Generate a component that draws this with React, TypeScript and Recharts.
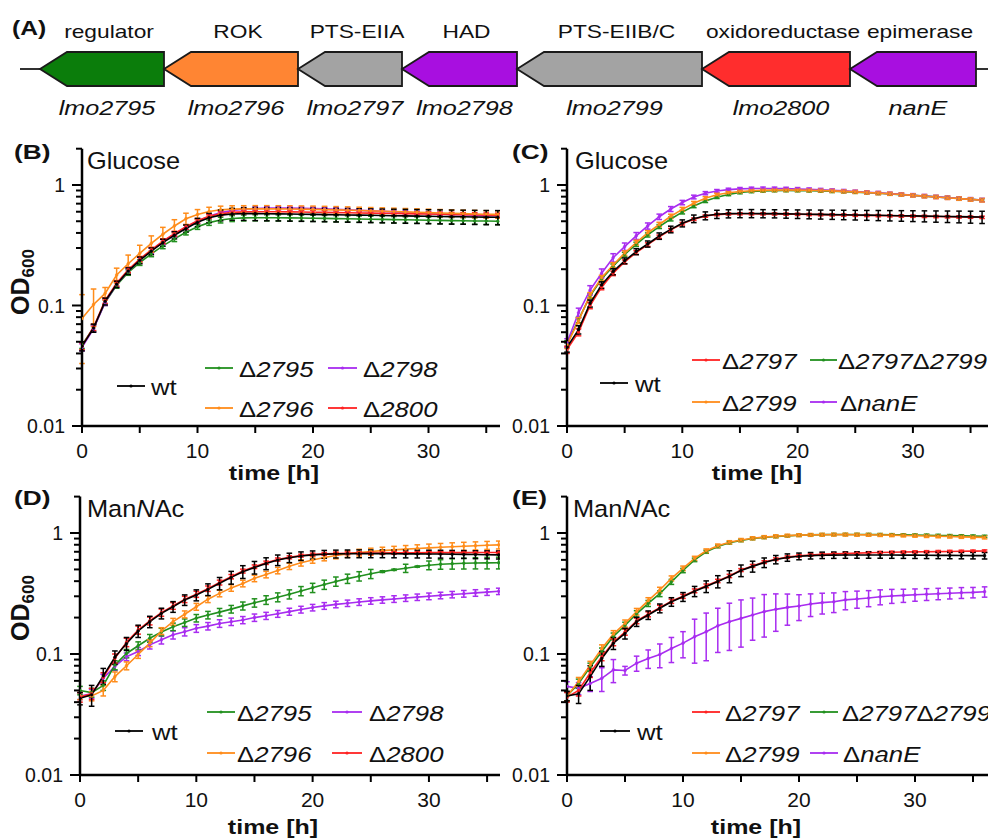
import React from 'react';
import { LineChart, Line, XAxis, YAxis, ErrorBar, Legend, BarChart, Bar } from 'recharts';

const FONT = '"Liberation Sans", Arial, Helvetica, sans-serif';

// ---------------- Panel A: operon ----------------
const geneFunctions = ['regulator', 'ROK', 'PTS-EIIA', 'HAD', 'PTS-EIIB/C', 'oxidoreductase', 'epimerase'];
const geneNames = ['lmo2795', 'lmo2796', 'lmo2797', 'lmo2798', 'lmo2799', 'lmo2800', 'nanE'];
const geneLengths = [124, 134, 104, 115, 185, 148, 126];
const flankLengths = [20, 12];
const geneColors = ['#0b7d0b', '#ff8533', '#a3a3a3', '#a80fe0', '#a3a3a3', '#ff2d2d', '#a80fe0'];

// ---------------- Panels B-E: growth curves ----------------
const hours = [
  0, 1, 2, 3, 4, 5, 6, 7, 8, 9,
  10, 11, 12, 13, 14, 15, 16, 17, 18, 19,
  20, 21, 22, 23, 24, 25, 26, 27, 28, 29,
  30, 31, 32, 33, 34, 35, 36,
];
const xTicks = [0, 5, 10, 15, 20, 25, 30, 35];
const xTickLabels = ['0', '', '10', '', '20', '', '30', ''];
const yTicks = [0.01, 0.02, 0.03, 0.04, 0.05, 0.06, 0.07, 0.08, 0.09, 0.1, 0.2, 0.3, 0.4, 0.5, 0.6, 0.7, 0.8, 0.9, 1, 2];
const yTickLabels = ['0.01', '', '', '', '', '', '', '', '', '0.1', '', '', '', '', '', '', '', '', '1', ''];

// B: Glucose
const bWt = [
  0.046, 0.065, 0.108, 0.150, 0.193, 0.237, 0.282, 0.332, 0.383, 0.435,
  0.490, 0.535, 0.562, 0.575, 0.578, 0.578, 0.577, 0.576, 0.574, 0.572,
  0.570, 0.568, 0.566, 0.564, 0.562, 0.560, 0.558, 0.556, 0.554, 0.552,
  0.550, 0.548, 0.546, 0.545, 0.543, 0.541, 0.540,
];
const bWtErr = [
  0.004, 0.005, 0.007, 0.009, 0.012, 0.015, 0.018, 0.022, 0.026, 0.030,
  0.038, 0.048, 0.058, 0.065, 0.070, 0.072, 0.073, 0.073, 0.073, 0.073,
  0.073, 0.073, 0.073, 0.073, 0.073, 0.073, 0.073, 0.073, 0.073, 0.073,
  0.073, 0.073, 0.073, 0.073, 0.073, 0.073, 0.073,
];
const bD2795 = [
  0.047, 0.065, 0.106, 0.147, 0.188, 0.227, 0.268, 0.312, 0.357, 0.405,
  0.450, 0.487, 0.512, 0.527, 0.533, 0.535, 0.535, 0.534, 0.533, 0.532,
  0.530, 0.528, 0.526, 0.524, 0.522, 0.520, 0.518, 0.516, 0.514, 0.512,
  0.510, 0.508, 0.506, 0.505, 0.503, 0.502, 0.500,
];
const bD2795Err = [
  0.003, 0.004, 0.006, 0.008, 0.010, 0.012, 0.014, 0.016, 0.018, 0.020,
  0.022, 0.025, 0.028, 0.030, 0.030, 0.031, 0.031, 0.031, 0.031, 0.031,
  0.031, 0.031, 0.031, 0.031, 0.031, 0.031, 0.031, 0.031, 0.031, 0.031,
  0.031, 0.031, 0.031, 0.031, 0.031, 0.031, 0.031,
];
const bD2796 = [
  0.078, 0.102, 0.126, 0.179, 0.222, 0.271, 0.328, 0.390, 0.457, 0.525,
  0.570, 0.603, 0.622, 0.630, 0.633, 0.634, 0.634, 0.633, 0.632, 0.630,
  0.628, 0.625, 0.622, 0.618, 0.614, 0.610, 0.606, 0.602, 0.598, 0.594,
  0.590, 0.586, 0.582, 0.578, 0.575, 0.572, 0.570,
];
const bD2796Err = [
  0.045, 0.035, 0.015, 0.025, 0.040, 0.045, 0.050, 0.055, 0.058, 0.058,
  0.055, 0.050, 0.045, 0.042, 0.040, 0.040, 0.040, 0.040, 0.040, 0.040,
  0.040, 0.040, 0.040, 0.040, 0.040, 0.040, 0.040, 0.040, 0.040, 0.040,
  0.040, 0.040, 0.040, 0.040, 0.040, 0.040, 0.040,
];
const bD2798 = [
  0.045, 0.064, 0.106, 0.150, 0.193, 0.238, 0.285, 0.337, 0.390, 0.447,
  0.500, 0.550, 0.590, 0.615, 0.630, 0.638, 0.642, 0.643, 0.642, 0.640,
  0.637, 0.633, 0.628, 0.622, 0.616, 0.610, 0.604, 0.598, 0.592, 0.586,
  0.580, 0.575, 0.570, 0.566, 0.562, 0.558, 0.555,
];
const bD2798Err = [
  0.003, 0.004, 0.006, 0.008, 0.010, 0.012, 0.014, 0.016, 0.018, 0.020,
  0.020, 0.020, 0.020, 0.020, 0.020, 0.020, 0.020, 0.020, 0.020, 0.020,
  0.020, 0.020, 0.020, 0.020, 0.020, 0.020, 0.020, 0.020, 0.020, 0.020,
  0.020, 0.020, 0.020, 0.020, 0.020, 0.020, 0.020,
];
const bD2800 = [
  0.046, 0.066, 0.110, 0.153, 0.198, 0.243, 0.290, 0.342, 0.395, 0.450,
  0.505, 0.550, 0.578, 0.592, 0.598, 0.600, 0.600, 0.600, 0.598, 0.596,
  0.594, 0.592, 0.590, 0.588, 0.586, 0.584, 0.582, 0.580, 0.578, 0.576,
  0.574, 0.572, 0.570, 0.568, 0.566, 0.564, 0.562,
];
const bD2800Err = [
  0.003, 0.004, 0.006, 0.008, 0.010, 0.012, 0.014, 0.016, 0.018, 0.020,
  0.022, 0.022, 0.022, 0.022, 0.022, 0.022, 0.022, 0.022, 0.022, 0.022,
  0.022, 0.022, 0.022, 0.022, 0.022, 0.022, 0.022, 0.022, 0.022, 0.022,
  0.022, 0.022, 0.022, 0.022, 0.022, 0.022, 0.022,
];

// C: Glucose
const cWt = [
  0.045, 0.063, 0.104, 0.148, 0.191, 0.235, 0.280, 0.324, 0.377, 0.428,
  0.481, 0.525, 0.556, 0.572, 0.578, 0.580, 0.580, 0.579, 0.578, 0.576,
  0.574, 0.572, 0.570, 0.568, 0.566, 0.564, 0.562, 0.560, 0.558, 0.556,
  0.554, 0.552, 0.550, 0.548, 0.546, 0.544, 0.542,
];
const cWtErr = [
  0.004, 0.005, 0.007, 0.009, 0.011, 0.013, 0.016, 0.019, 0.023, 0.027,
  0.032, 0.038, 0.042, 0.045, 0.045, 0.045, 0.045, 0.045, 0.045, 0.046,
  0.047, 0.048, 0.049, 0.050, 0.051, 0.052, 0.053, 0.054, 0.055, 0.056,
  0.057, 0.058, 0.059, 0.060, 0.061, 0.062, 0.063,
];
const cD2797 = [
  0.043, 0.060, 0.100, 0.142, 0.185, 0.230, 0.275, 0.320, 0.372, 0.424,
  0.477, 0.520, 0.552, 0.568, 0.575, 0.577, 0.577, 0.576, 0.575, 0.573,
  0.571, 0.569, 0.567, 0.565, 0.563, 0.561, 0.559, 0.557, 0.555, 0.553,
  0.551, 0.549, 0.547, 0.545, 0.543, 0.541, 0.539,
];
const cD2797Err = [
  0.003, 0.004, 0.006, 0.007, 0.008, 0.009, 0.010, 0.011, 0.012, 0.012,
  0.012, 0.012, 0.012, 0.012, 0.012, 0.012, 0.012, 0.012, 0.012, 0.012,
  0.012, 0.012, 0.012, 0.012, 0.012, 0.012, 0.012, 0.012, 0.012, 0.012,
  0.012, 0.012, 0.012, 0.012, 0.012, 0.012, 0.012,
];
const cD2799 = [
  0.047, 0.075, 0.122, 0.170, 0.217, 0.272, 0.333, 0.400, 0.470, 0.550,
  0.628, 0.705, 0.775, 0.830, 0.862, 0.883, 0.896, 0.903, 0.907, 0.908,
  0.907, 0.904, 0.899, 0.893, 0.885, 0.876, 0.866, 0.856, 0.845, 0.833,
  0.820, 0.807, 0.795, 0.783, 0.771, 0.759, 0.748,
];
const cD2799Err = [
  0.003, 0.004, 0.006, 0.008, 0.010, 0.012, 0.015, 0.018, 0.020, 0.022,
  0.024, 0.025, 0.025, 0.025, 0.025, 0.025, 0.025, 0.025, 0.025, 0.025,
  0.025, 0.025, 0.025, 0.025, 0.025, 0.025, 0.025, 0.025, 0.025, 0.025,
  0.025, 0.025, 0.025, 0.025, 0.025, 0.025, 0.025,
];
const cD2797D2799 = [
  0.048, 0.076, 0.120, 0.166, 0.212, 0.265, 0.322, 0.385, 0.452, 0.522,
  0.595, 0.668, 0.735, 0.792, 0.835, 0.865, 0.883, 0.893, 0.898, 0.899,
  0.898, 0.895, 0.891, 0.886, 0.880, 0.872, 0.863, 0.853, 0.843, 0.832,
  0.820, 0.808, 0.796, 0.784, 0.772, 0.760, 0.750,
];
const cD2797D2799Err = [
  0.003, 0.004, 0.005, 0.007, 0.009, 0.011, 0.013, 0.015, 0.017, 0.019,
  0.020, 0.020, 0.020, 0.020, 0.020, 0.020, 0.020, 0.020, 0.020, 0.020,
  0.020, 0.020, 0.020, 0.020, 0.020, 0.020, 0.020, 0.020, 0.020, 0.020,
  0.020, 0.020, 0.020, 0.020, 0.020, 0.020, 0.020,
];
const cNanE = [
  0.049, 0.087, 0.134, 0.185, 0.249, 0.308, 0.378, 0.457, 0.545, 0.632,
  0.715, 0.795, 0.855, 0.892, 0.915, 0.928, 0.934, 0.936, 0.935, 0.932,
  0.927, 0.920, 0.912, 0.903, 0.893, 0.882, 0.871, 0.860, 0.848, 0.836,
  0.823, 0.810, 0.797, 0.785, 0.773, 0.761, 0.750,
];
const cNanEErr = [
  0.004, 0.008, 0.012, 0.016, 0.020, 0.022, 0.025, 0.027, 0.028, 0.030,
  0.030, 0.028, 0.026, 0.025, 0.025, 0.025, 0.025, 0.025, 0.025, 0.025,
  0.025, 0.025, 0.025, 0.025, 0.025, 0.025, 0.025, 0.025, 0.025, 0.025,
  0.025, 0.025, 0.025, 0.025, 0.025, 0.025, 0.025,
];

// D: ManNAc
const dWt = [
  0.043, 0.046, 0.066, 0.094, 0.122, 0.155, 0.185, 0.217, 0.246, 0.280,
  0.307, 0.342, 0.384, 0.430, 0.479, 0.520, 0.561, 0.598, 0.625, 0.645,
  0.660, 0.668, 0.672, 0.674, 0.675, 0.675, 0.675, 0.674, 0.673, 0.672,
  0.671, 0.670, 0.668, 0.666, 0.664, 0.662, 0.660,
];
const dWtErr = [
  0.005, 0.009, 0.010, 0.012, 0.015, 0.018, 0.020, 0.022, 0.025, 0.028,
  0.032, 0.038, 0.045, 0.052, 0.058, 0.062, 0.063, 0.060, 0.056, 0.053,
  0.051, 0.050, 0.050, 0.050, 0.050, 0.050, 0.050, 0.050, 0.050, 0.050,
  0.050, 0.050, 0.050, 0.050, 0.050, 0.050, 0.050,
];
const dD2795 = [
  0.050, 0.048, 0.055, 0.081, 0.101, 0.117, 0.135, 0.152, 0.168, 0.182,
  0.198, 0.210, 0.222, 0.235, 0.250, 0.265, 0.280, 0.295, 0.312, 0.332,
  0.353, 0.375, 0.398, 0.420, 0.440, 0.460, 0.480, 0.497, 0.512, 0.528,
  0.542, 0.552, 0.558, 0.562, 0.565, 0.567, 0.568,
];
const dD2795Err = [
  0.004, 0.004, 0.005, 0.007, 0.008, 0.009, 0.010, 0.011, 0.012, 0.013,
  0.014, 0.015, 0.016, 0.017, 0.019, 0.021, 0.023, 0.025, 0.027, 0.029,
  0.031, 0.033, 0.035, 0.037, 0.039, 0.040, 0.008, 0.006, 0.040, 0.006,
  0.045, 0.050, 0.055, 0.058, 0.060, 0.062, 0.063,
];
const dD2796 = [
  0.045, 0.045, 0.050, 0.065, 0.080, 0.099, 0.123, 0.155, 0.185, 0.213,
  0.246, 0.284, 0.317, 0.352, 0.383, 0.422, 0.454, 0.490, 0.531, 0.567,
  0.599, 0.627, 0.652, 0.672, 0.690, 0.703, 0.715, 0.726, 0.736, 0.745,
  0.754, 0.762, 0.770, 0.778, 0.785, 0.792, 0.798,
];
const dD2796Err = [
  0.003, 0.004, 0.005, 0.006, 0.006, 0.007, 0.008, 0.010, 0.012, 0.014,
  0.016, 0.018, 0.020, 0.022, 0.024, 0.026, 0.028, 0.030, 0.032, 0.034,
  0.036, 0.038, 0.040, 0.042, 0.044, 0.046, 0.048, 0.050, 0.052, 0.054,
  0.056, 0.058, 0.060, 0.060, 0.060, 0.060, 0.060,
];
const dD2798 = [
  0.045, 0.047, 0.063, 0.079, 0.095, 0.105, 0.119, 0.131, 0.144, 0.153,
  0.163, 0.170, 0.179, 0.185, 0.191, 0.200, 0.207, 0.215, 0.224, 0.233,
  0.242, 0.250, 0.257, 0.263, 0.269, 0.275, 0.280, 0.285, 0.290, 0.295,
  0.300, 0.305, 0.310, 0.315, 0.320, 0.325, 0.330,
];
const dD2798Err = [
  0.003, 0.004, 0.005, 0.006, 0.007, 0.008, 0.009, 0.010, 0.011, 0.012,
  0.012, 0.012, 0.013, 0.013, 0.013, 0.014, 0.014, 0.014, 0.015, 0.015,
  0.015, 0.016, 0.016, 0.016, 0.017, 0.017, 0.017, 0.018, 0.018, 0.018,
  0.019, 0.019, 0.019, 0.020, 0.020, 0.020, 0.020,
];
const dD2800 = [
  0.044, 0.047, 0.064, 0.092, 0.125, 0.158, 0.188, 0.220, 0.250, 0.283,
  0.312, 0.347, 0.390, 0.436, 0.485, 0.527, 0.568, 0.604, 0.630, 0.650,
  0.664, 0.672, 0.677, 0.680, 0.682, 0.683, 0.684, 0.685, 0.686, 0.687,
  0.688, 0.688, 0.689, 0.689, 0.690, 0.690, 0.690,
];
const dD2800Err = [
  0.004, 0.005, 0.006, 0.008, 0.010, 0.012, 0.014, 0.015, 0.016, 0.017,
  0.018, 0.018, 0.018, 0.018, 0.018, 0.018, 0.018, 0.018, 0.018, 0.018,
  0.018, 0.018, 0.018, 0.018, 0.018, 0.018, 0.018, 0.018, 0.018, 0.018,
  0.018, 0.018, 0.018, 0.018, 0.018, 0.018, 0.018,
];

// E: ManNAc
const eWt = [
  0.045, 0.047, 0.065, 0.092, 0.123, 0.148, 0.185, 0.210, 0.239, 0.270,
  0.297, 0.330, 0.362, 0.398, 0.438, 0.490, 0.530, 0.570, 0.604, 0.628,
  0.642, 0.650, 0.655, 0.657, 0.658, 0.659, 0.659, 0.659, 0.658, 0.657,
  0.656, 0.655, 0.654, 0.653, 0.652, 0.651, 0.650,
];
const eWtErr = [
  0.004, 0.008, 0.015, 0.013, 0.014, 0.015, 0.016, 0.017, 0.020, 0.022,
  0.025, 0.032, 0.040, 0.046, 0.050, 0.054, 0.055, 0.052, 0.048, 0.044,
  0.041, 0.040, 0.040, 0.040, 0.040, 0.040, 0.040, 0.040, 0.040, 0.040,
  0.040, 0.040, 0.040, 0.040, 0.040, 0.040, 0.040,
];
const eD2797 = [
  0.044, 0.050, 0.070, 0.095, 0.125, 0.152, 0.188, 0.213, 0.242, 0.273,
  0.300, 0.333, 0.366, 0.402, 0.442, 0.494, 0.535, 0.575, 0.608, 0.632,
  0.648, 0.658, 0.666, 0.672, 0.678, 0.682, 0.686, 0.690, 0.693, 0.696,
  0.698, 0.700, 0.702, 0.704, 0.706, 0.708, 0.710,
];
const eD2797Err = [
  0.004, 0.005, 0.006, 0.007, 0.008, 0.009, 0.010, 0.010, 0.011, 0.011,
  0.012, 0.012, 0.013, 0.013, 0.014, 0.014, 0.015, 0.015, 0.015, 0.015,
  0.015, 0.015, 0.015, 0.015, 0.015, 0.015, 0.015, 0.015, 0.015, 0.015,
  0.015, 0.015, 0.015, 0.015, 0.015, 0.015, 0.015,
];
const eD2799 = [
  0.045, 0.059, 0.081, 0.111, 0.146, 0.179, 0.224, 0.276, 0.338, 0.422,
  0.511, 0.618, 0.714, 0.785, 0.838, 0.875, 0.905, 0.925, 0.940, 0.952,
  0.960, 0.965, 0.968, 0.970, 0.970, 0.968, 0.966, 0.963, 0.960, 0.955,
  0.950, 0.945, 0.940, 0.935, 0.930, 0.925, 0.920,
];
const eD2799Err = [
  0.004, 0.005, 0.006, 0.008, 0.010, 0.012, 0.014, 0.016, 0.018, 0.020,
  0.022, 0.024, 0.025, 0.026, 0.026, 0.026, 0.026, 0.026, 0.026, 0.026,
  0.026, 0.026, 0.026, 0.026, 0.026, 0.026, 0.026, 0.026, 0.026, 0.026,
  0.026, 0.026, 0.026, 0.026, 0.026, 0.026, 0.026,
];
const eD2797D2799 = [
  0.045, 0.057, 0.078, 0.105, 0.140, 0.172, 0.215, 0.262, 0.315, 0.395,
  0.490, 0.600, 0.700, 0.775, 0.830, 0.868, 0.900, 0.920, 0.935, 0.948,
  0.958, 0.965, 0.970, 0.972, 0.973, 0.973, 0.972, 0.970, 0.968, 0.965,
  0.962, 0.959, 0.955, 0.951, 0.947, 0.943, 0.938,
];
const eD2797D2799Err = [
  0.004, 0.005, 0.006, 0.007, 0.009, 0.011, 0.013, 0.015, 0.017, 0.019,
  0.020, 0.020, 0.020, 0.020, 0.020, 0.020, 0.020, 0.020, 0.020, 0.020,
  0.020, 0.020, 0.020, 0.020, 0.020, 0.020, 0.020, 0.020, 0.020, 0.020,
  0.020, 0.020, 0.020, 0.020, 0.020, 0.020, 0.020,
];
const eNanE = [
  0.054, 0.052, 0.057, 0.063, 0.074, 0.073, 0.084, 0.092, 0.099, 0.111,
  0.123, 0.139, 0.153, 0.171, 0.185, 0.197, 0.210, 0.224, 0.234, 0.243,
  0.249, 0.259, 0.266, 0.270, 0.280, 0.285, 0.290, 0.297, 0.302, 0.305,
  0.309, 0.312, 0.315, 0.318, 0.321, 0.323, 0.327,
];
const eNanEErr = [
  0.005, 0.006, 0.008, 0.014, 0.016, 0.006, 0.012, 0.016, 0.022, 0.026,
  0.030, 0.055, 0.065, 0.068, 0.078, 0.083, 0.080, 0.086, 0.080, 0.070,
  0.060, 0.055, 0.052, 0.050, 0.048, 0.046, 0.044, 0.042, 0.040, 0.038,
  0.036, 0.035, 0.034, 0.033, 0.033, 0.032, 0.032,
];

// ---------------- styling ----------------
const colWt = '#000000';
const colGreen = '#22901f';
const colOrange = '#ff8c1a';
const colPurple = '#a82cf0';
const colRed = '#ff2222';

type SeriesDef = { key: string; name: string; color: string; values: number[]; errors: number[] };
type LegendPos = { key: string; x1: number; x2: number; y: number; tx: number };
type PanelCfg = {
  id: string; left: number; top: number; width: number; height: number;
  yAxisWidth: number; marginTop: number; marginBottom: number; xMax: number;
  series: SeriesDef[]; legend: LegendPos[];
};

const panels: PanelCfg[] = [
  {
    id: 'B', left: 0, top: 140, width: 500, height: 360, yAxisWidth: 82, marginTop: 8.7, marginBottom: 44, xMax: 36.19,
    series: [
      { key: 'd2795', name: 'Δ2795', color: colGreen, values: bD2795, errors: bD2795Err },
      { key: 'd2798', name: 'Δ2798', color: colPurple, values: bD2798, errors: bD2798Err },
      { key: 'd2800', name: 'Δ2800', color: colRed, values: bD2800, errors: bD2800Err },
      { key: 'd2796', name: 'Δ2796', color: colOrange, values: bD2796, errors: bD2796Err },
      { key: 'wt', name: 'wt', color: colWt, values: bWt, errors: bWtErr },
    ],
    legend: [
      { key: 'wt', x1: 117, x2: 145, y: 246, tx: 151 },
      { key: 'd2795', x1: 205, x2: 233, y: 228, tx: 239 },
      { key: 'd2798', x1: 328, x2: 357, y: 228, tx: 363 },
      { key: 'd2796', x1: 205, x2: 233, y: 268, tx: 239 },
      { key: 'd2800', x1: 328, x2: 357, y: 268, tx: 363 },
    ],
  },
  {
    id: 'C', left: 485, top: 140, width: 504, height: 360, yAxisWidth: 82, marginTop: 8.7, marginBottom: 44, xMax: 36.6,
    series: [
      { key: 'd2797d2799', name: 'Δ2797Δ2799', color: colGreen, values: cD2797D2799, errors: cD2797D2799Err },
      { key: 'dnanE', name: 'ΔnanE', color: colPurple, values: cNanE, errors: cNanEErr },
      { key: 'd2799', name: 'Δ2799', color: colOrange, values: cD2799, errors: cD2799Err },
      { key: 'd2797', name: 'Δ2797', color: colRed, values: cD2797, errors: cD2797Err },
      { key: 'wt', name: 'wt', color: colWt, values: cWt, errors: cWtErr },
    ],
    legend: [
      { key: 'wt', x1: 115, x2: 143, y: 243, tx: 150 },
      { key: 'd2797', x1: 207, x2: 235, y: 220, tx: 237 },
      { key: 'd2797d2799', x1: 325, x2: 352, y: 220, tx: 353 },
      { key: 'd2799', x1: 207, x2: 235, y: 262, tx: 237 },
      { key: 'dnanE', x1: 325, x2: 352, y: 262, tx: 355 },
    ],
  },
  {
    id: 'D', left: 0, top: 488, width: 500, height: 352, yAxisWidth: 80, marginTop: 8.6, marginBottom: 35, xMax: 36.11,
    series: [
      { key: 'd2798', name: 'Δ2798', color: colPurple, values: dD2798, errors: dD2798Err },
      { key: 'd2795', name: 'Δ2795', color: colGreen, values: dD2795, errors: dD2795Err },
      { key: 'd2796', name: 'Δ2796', color: colOrange, values: dD2796, errors: dD2796Err },
      { key: 'd2800', name: 'Δ2800', color: colRed, values: dD2800, errors: dD2800Err },
      { key: 'wt', name: 'wt', color: colWt, values: dWt, errors: dWtErr },
    ],
    legend: [
      { key: 'wt', x1: 115, x2: 143, y: 243, tx: 152 },
      { key: 'd2795', x1: 207, x2: 235, y: 224, tx: 237 },
      { key: 'd2798', x1: 332, x2: 362, y: 224, tx: 369 },
      { key: 'd2796', x1: 207, x2: 235, y: 265, tx: 237 },
      { key: 'd2800', x1: 332, x2: 362, y: 265, tx: 369 },
    ],
  },
  {
    id: 'E', left: 485, top: 488, width: 504, height: 352, yAxisWidth: 82, marginTop: 8.6, marginBottom: 35, xMax: 36.38,
    series: [
      { key: 'dnanE', name: 'ΔnanE', color: colPurple, values: eNanE, errors: eNanEErr },
      { key: 'd2797d2799', name: 'Δ2797Δ2799', color: colGreen, values: eD2797D2799, errors: eD2797D2799Err },
      { key: 'd2799', name: 'Δ2799', color: colOrange, values: eD2799, errors: eD2799Err },
      { key: 'd2797', name: 'Δ2797', color: colRed, values: eD2797, errors: eD2797Err },
      { key: 'wt', name: 'wt', color: colWt, values: eWt, errors: eWtErr },
    ],
    legend: [
      { key: 'wt', x1: 115, x2: 145, y: 243, tx: 152 },
      { key: 'd2797', x1: 207, x2: 235, y: 224, tx: 240 },
      { key: 'd2797d2799', x1: 325, x2: 353, y: 224, tx: 357 },
      { key: 'd2799', x1: 207, x2: 235, y: 265, tx: 240 },
      { key: 'dnanE', x1: 325, x2: 353, y: 265, tx: 358 },
    ],
  },
];

function buildRows(series: SeriesDef[]) {
  return hours.map((h, i) => {
    const row: Record<string, number> = { h };
    series.forEach((s) => {
      row[s.key] = s.values[i];
      row[s.key + 'Err'] = s.errors[i];
    });
    return row;
  });
}

const renderXTick = (props: any) => {
  const { x, y, payload } = props;
  const idx = xTicks.indexOf(payload.value);
  const label = idx >= 0 ? xTickLabels[idx] : '';
  return (
    <g>
      <line x1={x} x2={x} y1={y} y2={y + 7} stroke="#000" strokeWidth={2} />
      {label !== '' && (
        <text x={x} y={y + 32} textAnchor="middle" fontSize={21} fontFamily={FONT} fill="#111">{label}</text>
      )}
    </g>
  );
};

const renderYTick = (props: any) => {
  const { x, y, payload } = props;
  const idx = yTicks.indexOf(payload.value);
  const label = idx >= 0 ? yTickLabels[idx] : '';
  const major = label !== '';
  return (
    <g>
      <line x1={x - (major ? 10 : 6)} x2={x} y1={y} y2={y} stroke="#000" strokeWidth={2} />
      {major && (
        <text x={x - 17} y={y} dy="0.36em" textAnchor="end" fontSize={19.5} fontFamily={FONT} fill="#111">{label}</text>
      )}
    </g>
  );
};

function renderName(name: string) {
  if (name === 'wt') return <tspan>wt</tspan>;
  const parts = name.split(/(Δ)/).filter((p) => p !== '');
  return parts.map((p, i) =>
    p === 'Δ' ? <tspan key={i} fontStyle="normal">Δ</tspan> : <tspan key={i} fontStyle="italic">{p}</tspan>
  );
}

function LegendSvg({ p }: { p: PanelCfg }) {
  return (
    <svg width={p.width} height={p.height} style={{ display: 'block', overflow: 'visible' }}>
      {p.legend.map((it) => {
        const s = p.series.find((q) => q.key === it.key)!;
        return (
          <g key={it.key}>
            <line x1={it.x1} x2={it.x2} y1={it.y} y2={it.y} stroke={s.color} strokeWidth={1.8} />
            <circle cx={(it.x1 + it.x2) / 2} cy={it.y} r={1.6} fill={s.color} />
            <text transform={`translate(${it.tx},${it.y + 8.5}) scale(1.12,1)`} fontSize={23} fontFamily={FONT} fill="#111">
              {renderName(s.name)}
            </text>
          </g>
        );
      })}
    </svg>
  );
}

function GrowthChart({ p }: { p: PanelCfg }) {
  const rows = buildRows(p.series);
  return (
    <LineChart
      width={p.width}
      height={p.height}
      data={rows}
      margin={{ top: p.marginTop, right: 0, bottom: p.marginBottom, left: 0 }}
    >
      <XAxis
        dataKey="h"
        type="number"
        domain={[0, p.xMax]}
        allowDataOverflow
        ticks={xTicks}
        interval={0}
        tickSize={0}
        tickMargin={0}
        tickLine={false}
        axisLine={{ stroke: '#000', strokeWidth: 2.5 }}
        height={30}
        tick={renderXTick}
      />
      <YAxis
        type="number"
        scale="log"
        domain={[0.01, 2]}
        allowDataOverflow
        ticks={yTicks}
        interval={0}
        tickSize={0}
        tickMargin={0}
        tickLine={false}
        axisLine={{ stroke: '#000', strokeWidth: 2.5 }}
        width={p.yAxisWidth}
        tick={renderYTick}
      />
      {p.series.map((s) => (
        <Line
          key={s.key}
          dataKey={s.key}
          type="linear"
          stroke={s.color}
          strokeWidth={1.6}
          dot={{ r: 1.4, fill: s.color, stroke: s.color, strokeWidth: 0.5 }}
          activeDot={false}
          isAnimationActive={false}
        >
          <ErrorBar dataKey={s.key + 'Err'} direction="y" width={2.8} stroke={s.color} strokeWidth={1.5} isAnimationActive={false} />
        </Line>
      ))}
      <Legend
        layout="horizontal"
        verticalAlign="middle"
        align="center"
        wrapperStyle={{ left: 0, top: 0, width: p.width, height: p.height, pointerEvents: 'none' }}
        content={() => <LegendSvg p={p} />}
      />
    </LineChart>
  );
}

// ---------------- Panel A shapes ----------------
const GeneArrow = (props: any) => {
  const { x, y, width, height, idx } = props;
  const head = 27;
  const cy = y + height / 2;
  const pts = `${x},${cy} ${x + head},${y} ${x + width},${y} ${x + width},${y + height} ${x + head},${y + height}`;
  const cx = x + width / 2 + 7;
  return (
    <g>
      <polygon points={pts} fill={geneColors[idx]} stroke="#1a1a1a" strokeWidth={1.8} />
      <text transform={`translate(${cx},${y - 14}) scale(1.23,1)`} textAnchor="middle" fontSize={18.5} fontFamily={FONT} fill="#111">
        {geneFunctions[idx]}
      </text>
      <text transform={`translate(${cx - 2},${y + height + 29}) scale(1.23,1)`} textAnchor="middle" fontSize={20.5} fontStyle="italic" fontFamily={FONT} fill="#111">
        {geneNames[idx]}
      </text>
    </g>
  );
};

const FlankShape = (props: any) => {
  const { x, y, width, height } = props;
  return <line x1={x} x2={x + width} y1={y + height / 2} y2={y + height / 2} stroke="#1a1a1a" strokeWidth={1.8} />;
};

function OperonChart() {
  const row: Record<string, any> = { name: 'operon', lead: flankLengths[0], tail: flankLengths[1] };
  geneLengths.forEach((len, i) => { row['g' + i] = len; });
  return (
    <BarChart layout="vertical" width={988} height={130} data={[row]} margin={{ top: 52, bottom: 44, left: 0, right: 0 }} barCategoryGap={0} barGap={0}>
      <XAxis type="number" domain={[-20, 968]} hide />
      <YAxis type="category" dataKey="name" hide />
      <Bar dataKey="lead" stackId="op" isAnimationActive={false} shape={FlankShape} />
      {geneLengths.map((_, i) => (
        <Bar
          key={'g' + i}
          dataKey={'g' + i}
          stackId="op"
          fill={geneColors[i]}
          isAnimationActive={false}
          shape={(p: any) => <GeneArrow {...p} idx={i} />}
        />
      ))}
      <Bar dataKey="tail" stackId="op" isAnimationActive={false} shape={FlankShape} />
    </BarChart>
  );
}

// ---------------- static texts ----------------
function SText(props: { x: number; y: number; size: number; sx?: number; bold?: boolean; anchor?: 'start' | 'middle' | 'end'; children: React.ReactNode }) {
  const { x, y, size, sx = 1, bold = false, anchor = 'start', children } = props;
  return (
    <text transform={`translate(${x},${y}) scale(${sx},1)`} fontSize={size} fontWeight={bold ? 'bold' : 'normal'} textAnchor={anchor} fontFamily={FONT} fill="#111">
      {children}
    </text>
  );
}

function Overlay() {
  const od = (cy: number) => (
    <text transform={`translate(29,${cy}) rotate(-90)`} textAnchor="middle" fontFamily={FONT} fontWeight="bold" fontSize={25} fill="#111">
      OD<tspan fontSize={17} dy={5}>600</tspan>
    </text>
  );
  return (
    <svg width={988} height={840} style={{ position: 'absolute', left: 0, top: 0, pointerEvents: 'none' }}>
      <SText x={12} y={35} size={20} sx={1.23} bold>(A)</SText>
      <SText x={14} y={159} size={21} sx={1.25} bold>(B)</SText>
      <SText x={512} y={159} size={21} sx={1.25} bold>(C)</SText>
      <SText x={14} y={505} size={21} sx={1.25} bold>(D)</SText>
      <SText x={512} y={505} size={21} sx={1.25} bold>(E)</SText>
      <SText x={87} y={169} size={23.5} sx={1.08}>Glucose</SText>
      <SText x={575} y={169} size={23.5} sx={1.08}>Glucose</SText>
      <SText x={87} y={517} size={23.5} sx={1.08}>Man<tspan fontStyle="italic">N</tspan>Ac</SText>
      <SText x={573} y={517} size={23.5} sx={1.08}>Man<tspan fontStyle="italic">N</tspan>Ac</SText>
      <SText x={274} y={480} size={20.5} sx={1.22} bold anchor="middle">time [h]</SText>
      <SText x={757} y={480} size={20.5} sx={1.22} bold anchor="middle">time [h]</SText>
      <SText x={273} y={834} size={20.5} sx={1.22} bold anchor="middle">time [h]</SText>
      <SText x={756} y={834} size={20.5} sx={1.22} bold anchor="middle">time [h]</SText>
      {od(282)}
      {od(608)}
    </svg>
  );
}

export default function App() {
  return (
    <div style={{ position: 'absolute', left: 0, top: 0, width: 988, height: 840, overflow: 'hidden', background: '#fff', fontFamily: FONT }}>
      <div style={{ position: 'absolute', left: 0, top: 0 }}>
        <OperonChart />
      </div>
      {panels.map((p) => (
        <div key={p.id} style={{ position: 'absolute', left: p.left, top: p.top }}>
          <GrowthChart p={p} />
        </div>
      ))}
      <Overlay />
    </div>
  );
}
